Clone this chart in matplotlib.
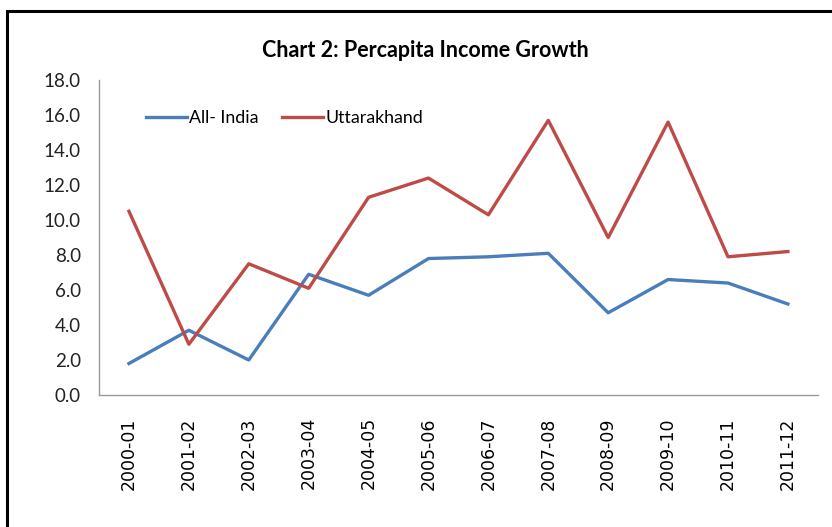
import matplotlib
matplotlib.use("Agg")
import matplotlib.pyplot as plt
from matplotlib.patches import Rectangle

# Data
years = ["2000-01", "2001-02", "2002-03", "2003-04", "2004-05", "2005-06",
         "2006-07", "2007-08", "2008-09", "2009-10", "2010-11", "2011-12"]
all_india = [1.8, 3.7, 2.0, 6.9, 5.7, 7.8, 7.9, 8.1, 4.7, 6.6, 6.4, 5.2]
uttarakhand = [10.5, 2.9, 7.5, 6.1, 11.3, 12.4, 10.3, 15.7, 9.0, 15.6, 7.9, 8.2]
y_ticks = [0, 2, 4, 6, 8, 10, 12, 14, 16, 18]

narrow = ["Lato", "DejaVu Sans"]

fig = plt.figure(figsize=(8.32, 5.27), dpi=100)
ax = fig.add_axes([0.119, 0.2505, 0.864, 0.5975])

x = list(range(len(years)))
ax.plot(x, all_india, color="#4A7EBB", lw=2.4, label="All- India")
ax.plot(x, uttarakhand, color="#BE4B48", lw=2.4, label="Uttarakhand")

ax.set_xlim(-0.5, len(years) - 0.5)
ax.set_ylim(0, 18)
ax.set_yticks(y_ticks)
ax.set_yticklabels([f"{v:.1f}" for v in y_ticks], family=narrow, fontsize=13.5,
                   color="#222222")
ax.set_xticks(x)
ax.set_xticklabels(years, rotation=90, fontsize=12.5, family="DejaVu Sans")
ax.tick_params(axis="y", length=0, pad=13)
ax.tick_params(axis="x", length=0, pad=16)

for s in ["top", "right"]:
    ax.spines[s].set_visible(False)
for s in ["left", "bottom"]:
    ax.spines[s].set_color("#9A9A9A")
    ax.spines[s].set_linewidth(1)

leg = ax.legend(loc="upper left", bbox_to_anchor=(0.043, 0.955), ncol=2, frameon=False,
                handlelength=2.3, handletextpad=0.15, columnspacing=1.3,
                prop={"family": narrow, "size": 12.8})

fig.text(0.511, 0.905, "Chart 2: Percapita Income Growth", ha="center", va="center",
         family=narrow, fontsize=15.5, fontweight="bold")

# outer chart border
fig.patches.append(Rectangle((0.009, -0.05), 1.2, 1.03, transform=fig.transFigure,
                             fill=False, edgecolor="black", lw=2.2))

fig.savefig("out.png", dpi=100)
